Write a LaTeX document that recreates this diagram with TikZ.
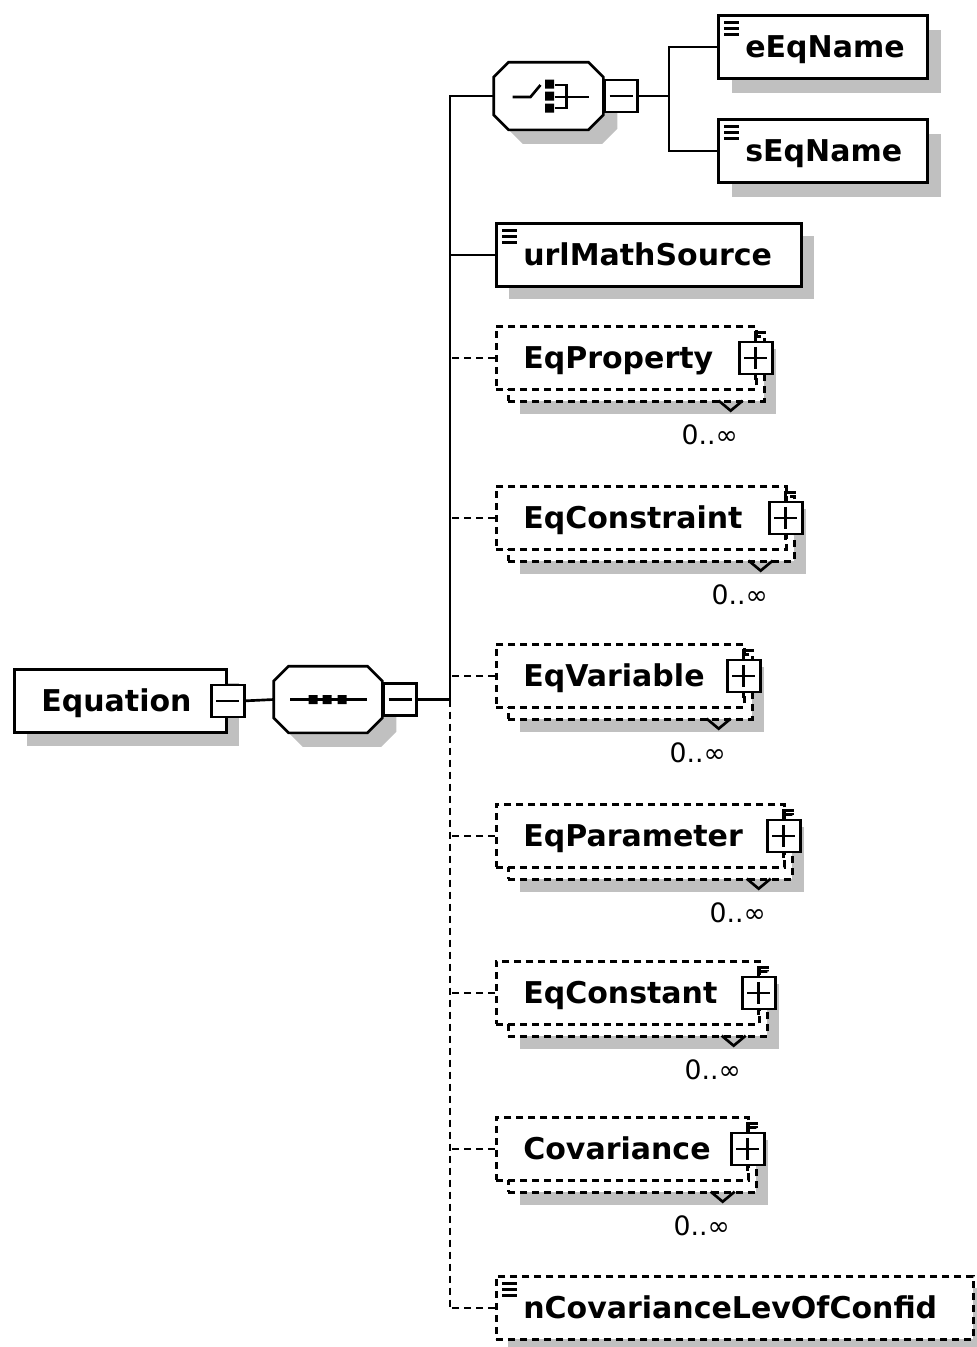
\documentclass[tikz,border=0pt]{standalone}
\usepackage{fontspec}
\usetikzlibrary{shadows}
\newfontfamily\diafont{DejaVu Sans}
\newcommand{\pxu}{0.75pt}
\newcommand{\octpath}[1]{([xshift=15*\pxu]#1.north west) -- ([xshift=-15*\pxu]#1.north east)
    -- ([yshift=-15*\pxu]#1.north east) -- ([yshift=15*\pxu]#1.south east)
    -- ([xshift=-15*\pxu]#1.south east) -- ([xshift=15*\pxu]#1.south west)
    -- ([yshift=15*\pxu]#1.south west) -- ([yshift=-15*\pxu]#1.north west) -- cycle}
\definecolor{shadowgray}{RGB}{192,192,192}

\begin{document}
\begin{tikzpicture}[x=0.75pt, y=-0.75pt, line width=2pt,
    hardshadow/.style 2 args={drop shadow={shadow xshift=#1*\pxu, shadow yshift=-#2*\pxu, opacity=1, fill=shadowgray}},
    elembox/.style={draw, fill=white, anchor=north west, inner xsep=27*\pxu, inner ysep=0pt,
        text width=(#1-54)*\pxu, align=left, minimum height=63*\pxu, text height=16.5pt, text depth=0pt,
        font=\diafont\bfseries\fontsize{22.5pt}{24pt}\selectfont},
    dashline/.style={dash pattern=on 5.25pt off 3.75pt},
    optbox/.style={elembox=#1, dashline},
    backbox/.style={draw, fill=white, anchor=north west, minimum width=#1*\pxu, minimum height=65*\pxu,
        inner sep=0pt, dashline, hardshadow={12}{13}},
    simpleicon/.style={path picture={
        \draw[solid] ([shift={(6,7)}]path picture bounding box.north west) -- ++(15,0)
            ([shift={(6,13)}]path picture bounding box.north west) -- ++(15,0)
            ([shift={(6,19)}]path picture bounding box.north west) -- ++(15,0);}},
    minusbox/.style={draw, fill=white, minimum width=33*\pxu, minimum height=32*\pxu, inner sep=0pt,
        path picture={\draw ([xshift=5*\pxu]path picture bounding box.west) -- ([xshift=-5*\pxu]path picture bounding box.east);}},
    plusbox/.style={draw, fill=white, minimum width=33*\pxu, minimum height=32*\pxu, inner sep=0pt,
        path picture={\draw ([xshift=5*\pxu]path picture bounding box.west) -- ([xshift=-5*\pxu]path picture bounding box.east)
            ([yshift=-5*\pxu]path picture bounding box.north) -- ([yshift=5*\pxu]path picture bounding box.south);}},
    compositor/.style={inner sep=0pt},
    compshadow/.style={fill=shadowgray, transform canvas={shift={(14,14)}}},
    seqicon/.style={path picture={
        \draw ([xshift=-38*\pxu]path picture bounding box.center) -- ([xshift=39*\pxu]path picture bounding box.center);
        \fill[black] ([shift={(-19.5,-4.5)}]path picture bounding box.center) rectangle ++(9,9)
            ([shift={(-5.5,-4.5)}]path picture bounding box.center) rectangle ++(9,9)
            ([shift={(9.5,-4.5)}]path picture bounding box.center) rectangle ++(9,9);}},
    choiceicon/.style={path picture={
        \draw ([shift={(-36,1)}]path picture bounding box.center) -- ++(18,0) -- ++(10,-12);
        \fill[black] ([shift={(-3.5,-16.5)}]path picture bounding box.center) rectangle ++(9,9)
            ([shift={(-3.5,-4.5)}]path picture bounding box.center) rectangle ++(9,9)
            ([shift={(-3.5,7.5)}]path picture bounding box.center) rectangle ++(9,9);
        \draw ([shift={(6,-11)}]path picture bounding box.center) -- ++(12,0) -- ++(0,23) -- ++(-12,0)
            ([shift={(6,1)}]path picture bounding box.center) -- ++(34,0);}},
    occ/.style={inner sep=0pt, font=\diafont\fontsize{20pt}{22pt}\selectfont}]

    \useasboundingbox (0,0) rectangle (976,1347);

    % Nodes
    \node (equation) [elembox=212, hardshadow={13}{14}] at (13,668) {Equation};
    \node (equationMinus) [minusbox] at (equation.east) {};
    \node (sequence) [compositor, minimum width=106*\pxu, minimum height=64*\pxu] at (328,699.5) {};
    \fill[compshadow] \octpath{sequence};
    \draw[fill=white, seqicon] \octpath{sequence};
    \node (sequenceMinus) [minusbox, anchor=west] at (sequence.east) {};
    \coordinate (trunk) at (450,699.5);

    \node (choice) [compositor, minimum width=107*\pxu, minimum height=65*\pxu] at (548.5,96) {};
    \fill[compshadow] \octpath{choice};
    \draw[fill=white, choiceicon] \octpath{choice};
    \node (choiceMinus) [minusbox, anchor=west] at (choice.east) {};
    \coordinate (fork) at (669,96);
    \node (eEqName) [elembox=209, simpleicon, hardshadow={14}{15}] at (717,14) {eEqName};
    \node (sEqName) [elembox=209, simpleicon, hardshadow={14}{15}] at (717,118) {sEqName};
    \node (urlMathSource) [elembox=305, simpleicon, hardshadow={13}{13}] at (495,222) {urlMathSource};

    \node (eqPropertyBack) [backbox=256] at (507,335) {};
    \node (eqProperty) [optbox=260] at (495,325) {EqProperty};
    \node (eqPropertyPlus) [plusbox, xshift=-2*\pxu] at (eqProperty.east) {};
    \node (eqPropertyOcc) [occ] at ([shift={(-48,44)}]eqProperty.south east) {0..∞};
    \draw (eqPropertyPlus.north) -- ++(0,-8) -- ++(10,0) (eqPropertyPlus.south) -- ++(0,5);
    \draw ([shift={(-47,-2)}]eqPropertyBack.south east) -- ++(12,10) -- ++(12,-10);

    \node (eqConstraintBack) [backbox=286] at (507,495) {};
    \node (eqConstraint) [optbox=290] at (495,485) {EqConstraint};
    \node (eqConstraintPlus) [plusbox, xshift=-2*\pxu] at (eqConstraint.east) {};
    \node (eqConstraintOcc) [occ] at ([shift={(-48,44)}]eqConstraint.south east) {0..∞};
    \draw (eqConstraintPlus.north) -- ++(0,-8) -- ++(10,0) (eqConstraintPlus.south) -- ++(0,5);
    \draw ([shift={(-47,-2)}]eqConstraintBack.south east) -- ++(12,10) -- ++(12,-10);

    \node (eqVariableBack) [backbox=244] at (507,653) {};
    \node (eqVariable) [optbox=248] at (495,643) {EqVariable};
    \node (eqVariablePlus) [plusbox, xshift=-2*\pxu] at (eqVariable.east) {};
    \node (eqVariableOcc) [occ] at ([shift={(-48,44)}]eqVariable.south east) {0..∞};
    \draw (eqVariablePlus.north) -- ++(0,-8) -- ++(10,0) (eqVariablePlus.south) -- ++(0,5);
    \draw ([shift={(-47,-2)}]eqVariableBack.south east) -- ++(12,10) -- ++(12,-10);

    \node (eqParameterBack) [backbox=284] at (507,813) {};
    \node (eqParameter) [optbox=288] at (495,803) {EqParameter};
    \node (eqParameterPlus) [plusbox, xshift=-2*\pxu] at (eqParameter.east) {};
    \node (eqParameterOcc) [occ] at ([shift={(-48,44)}]eqParameter.south east) {0..∞};
    \draw (eqParameterPlus.north) -- ++(0,-8) -- ++(10,0) (eqParameterPlus.south) -- ++(0,5);
    \draw ([shift={(-47,-2)}]eqParameterBack.south east) -- ++(12,10) -- ++(12,-10);

    \node (eqConstantBack) [backbox=259] at (507,970) {};
    \node (eqConstant) [optbox=263] at (495,960) {EqConstant};
    \node (eqConstantPlus) [plusbox, xshift=-2*\pxu] at (eqConstant.east) {};
    \node (eqConstantOcc) [occ] at ([shift={(-48,44)}]eqConstant.south east) {0..∞};
    \draw (eqConstantPlus.north) -- ++(0,-8) -- ++(10,0) (eqConstantPlus.south) -- ++(0,5);
    \draw ([shift={(-47,-2)}]eqConstantBack.south east) -- ++(12,10) -- ++(12,-10);

    \node (covarianceBack) [backbox=248] at (507,1126) {};
    \node (covariance) [optbox=252] at (495,1116) {Covariance};
    \node (covariancePlus) [plusbox, xshift=-2*\pxu] at (covariance.east) {};
    \node (covarianceOcc) [occ] at ([shift={(-48,44)}]covariance.south east) {0..∞};
    \draw (covariancePlus.north) -- ++(0,-8) -- ++(10,0) (covariancePlus.south) -- ++(0,5);
    \draw ([shift={(-47,-2)}]covarianceBack.south east) -- ++(12,10) -- ++(12,-10);

    \node (nCovariance) [optbox=477, simpleicon, hardshadow={12}{12}] at (495,1275) {nCovarianceLevOfConfid};

    % Connectors
    \draw (equationMinus.east) -- (sequence.west);
    \draw (sequenceMinus.east) -- (trunk);
    \draw (choice.west) -| (trunk);
    \draw[dashline] (trunk) -- (nCovariance.west -| trunk);
    \draw (urlMathSource.west) -- (urlMathSource.west -| trunk);
    \draw[dashline] (eqProperty.west) -- (eqProperty.west -| trunk);
    \draw[dashline] (eqConstraint.west) -- (eqConstraint.west -| trunk);
    \draw[dashline] (eqVariable.west) -- (eqVariable.west -| trunk);
    \draw[dashline] (eqParameter.west) -- (eqParameter.west -| trunk);
    \draw[dashline] (eqConstant.west) -- (eqConstant.west -| trunk);
    \draw[dashline] (covariance.west) -- (covariance.west -| trunk);
    \draw[dashline] (nCovariance.west) -- (nCovariance.west -| trunk);
    \draw (choiceMinus.east) -- (fork);
    \draw (eEqName.west) -| (fork) |- (sEqName.west);
\end{tikzpicture}
\end{document}
